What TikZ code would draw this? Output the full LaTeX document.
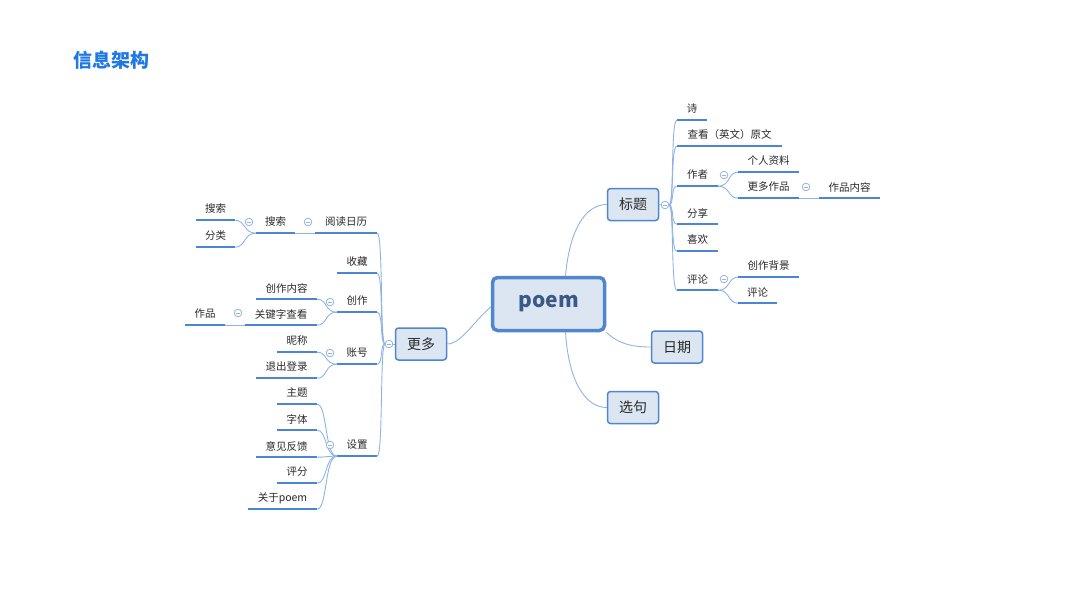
\documentclass[tikz,border=0pt]{standalone}
\usepackage{fontspec}
\setmainfont{Noto Sans CJK SC}
\definecolor{ulc}{RGB}{74,134,216}
\definecolor{cnc}{RGB}{141,180,226}
\definecolor{clc}{RGB}{150,180,220}
\definecolor{bxd}{RGB}{79,134,205}
\definecolor{bxf}{RGB}{220,230,242}
\definecolor{txt}{RGB}{40,40,40}
\definecolor{ptxt}{RGB}{59,88,135}
\definecolor{ttl}{RGB}{30,120,230}
\tikzset{
 leaf/.style={inner sep=0pt, minimum height=22pt, font=\fontsize{10.5}{12}\selectfont, text=txt},
 ul/.style={draw=ulc, line width=2pt},
 conn/.style={draw=cnc, line width=0.9pt},
 box/.style={draw=bxd, fill=bxf, rounded corners=3pt, line width=1.5pt, minimum width=51pt, minimum height=32pt, font=\fontsize{14}{16}\selectfont, text=txt, inner sep=0pt},
 coll/.style={circle, draw=clc, fill=white, line width=0.7pt, minimum size=7.5pt, inner sep=0pt,
   path picture={\draw[clc, line width=0.7pt] ([xshift=-2pt]path picture bounding box.center) -- ([xshift=2pt]path picture bounding box.center);}},
}
\newcommand\mmleaf[5]{\node[leaf,minimum width=#4pt] (#1) at (#2,{#3-11}) {#5};
  \draw[ul] (#1.south west) -- (#1.south east);}
\begin{document}
\begin{tikzpicture}[x=1pt,y=-1pt]
\useasboundingbox (0,0) rectangle (1073,600);
\node[font=\fontsize{19}{22}\selectfont\bfseries, text=ttl, inner sep=0pt] (title) at (111,60) {信息架构};

% central and main boxes
\node[box, line width=3.5pt, rounded corners=5pt, minimum width=112pt, minimum height=53pt, font=\fontsize{21}{24}\selectfont\bfseries, text=ptxt] (poem) at (548.5,304) {poem};
\node[box] (biaoti) at (633,204.5) {标题};
\node[box] (riqi) at (677,347) {日期};
\node[box] (xuanju) at (633,407.5) {选句};
\node[box] (gengduo) at (421,344) {更多};

% right leaves
\mmleaf{r1}{692}{120}{30}{诗}
\mmleaf{r2}{729.5}{146}{105}{查看（英文）原文}
\mmleaf{r3}{697.5}{186}{41}{作者}
\mmleaf{r31}{768.5}{172}{61}{个人资料}
\mmleaf{r32}{768.5}{198}{61}{更多作品}
\mmleaf{r321}{849.5}{198}{61}{作品内容}
\mmleaf{r4}{697.5}{224}{41}{分享}
\mmleaf{r5}{697.5}{251}{41}{喜欢}
\mmleaf{r6}{697.5}{290}{41}{评论}
\mmleaf{r61}{768.5}{277}{61}{创作背景}
\mmleaf{r62}{757.5}{303}{39}{评论}

% left leaves
\mmleaf{l1}{346}{233}{62}{阅读日历}
\mmleaf{l11}{275.5}{233}{39}{搜索}
\mmleaf{l111}{215.5}{220}{39}{搜索}
\mmleaf{l112}{215.5}{247}{39}{分类}
\mmleaf{l2}{357}{273}{40}{收藏}
\mmleaf{l3}{357}{312}{40}{创作}
\mmleaf{l31}{286.5}{299}{61}{创作内容}
\mmleaf{l32}{281}{325}{72}{关键字查看}
\mmleaf{l321}{205}{325}{40}{作品}
\mmleaf{l4}{357}{364}{40}{账号}
\mmleaf{l41}{297}{352}{40}{昵称}
\mmleaf{l42}{286.5}{378}{61}{退出登录}
\mmleaf{l5}{357}{456}{40}{设置}
\mmleaf{l51}{297}{404}{40}{主题}
\mmleaf{l52}{297}{430}{40}{字体}
\mmleaf{l53}{286.5}{457}{61}{意见反馈}
\mmleaf{l54}{297}{483}{40}{评分}
\mmleaf{l55}{282.5}{509}{69}{关于poem}

% collapse markers
\node[coll] (k1) at (665,205) {};
\node[coll] (k3) at (724,175) {};
\node[coll] (k32) at (806,187) {};
\node[coll] (k6) at (724,279) {};
\node[coll] (k0) at (389,344) {};
\node[coll] (k1l) at (308,222) {};
\node[coll] (k11) at (249,222) {};
\node[coll] (k3l) at (330,302) {};
\node[coll] (k32l) at (238,313) {};
\node[coll] (k4l) at (330,353) {};
\node[coll] (k5l) at (330,445) {};

% poem connectors
\draw[conn] ([xshift=17pt]poem.north) .. controls +(4,-45) and +(-22,0) .. (biaoti.west);
\draw[conn] (poem.south east) .. controls +(14,13) and +(-16,0) .. (riqi.west);
\draw[conn] ([xshift=17pt]poem.south) .. controls +(3,48) and +(-22,0) .. (xuanju.west);
\draw[conn] ([yshift=-3pt]poem.west) .. controls +(-16,13) and +(14,0) .. (gengduo.east);

% 标题 branch
\draw[conn] (biaoti.east) -- (k1.west);
\foreach \c in {r1,r2,r3,r4,r5,r6}
  \draw[conn] (k1.east) .. controls +(5,0) and +(-6,0) .. (\c.south west);
\foreach \c in {r31,r32}
  \draw[conn] (r3.south east) .. controls +(12,0) and +(-10,0) .. (\c.south west);
\draw[conn] (r32.south east) -- (r321.south west);
\foreach \c in {r61,r62}
  \draw[conn] (r6.south east) .. controls +(12,0) and +(-10,0) .. (\c.south west);

% 更多 branch
\draw[conn] (gengduo.west) -- (k0.east);
\foreach \c in {l1,l2,l3,l4,l5}
  \draw[conn] (k0.west) .. controls +(-5,0) and +(6,0) .. (\c.south east);
\draw[conn] (l1.south west) -- (l11.south east);
\foreach \c in {l111,l112}
  \draw[conn] (l11.south west) .. controls +(-12,0) and +(10,0) .. (\c.south east);
\foreach \c in {l31,l32}
  \draw[conn] (l3.south west) .. controls +(-12,0) and +(10,0) .. (\c.south east);
\draw[conn] (l32.south west) -- (l321.south east);
\foreach \c in {l41,l42}
  \draw[conn] (l4.south west) .. controls +(-12,0) and +(10,0) .. (\c.south east);
\foreach \c in {l51,l52,l53,l54,l55}
  \draw[conn] (l5.south west) .. controls +(-12,0) and +(10,0) .. (\c.south east);

% redraw markers on top
\foreach \k in {k1,k3,k32,k6,k0,k1l,k11,k3l,k32l,k4l,k5l}
  \node[coll] at (\k) {};
\end{tikzpicture}
\end{document}
